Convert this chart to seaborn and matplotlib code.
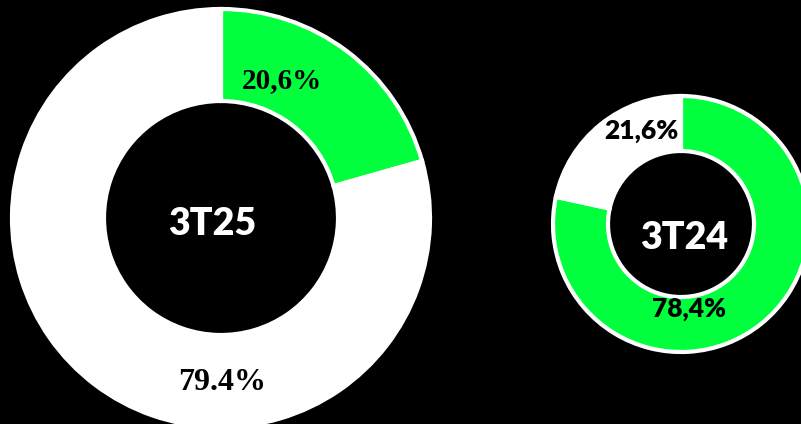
import matplotlib
matplotlib.use("Agg")
import matplotlib.pyplot as plt
import seaborn as sns

# shares of each period (green part first, then white part)
periods = ["3T25", "3T24"]
green_share = [20.6, 78.4]
white_share = [79.4, 21.6]
green_labels = ["20,6%", "78,4%"]
white_labels = ["79.4%", "21,6%"]

GREEN = "#00FF3C"
W, H = 801, 424

sns.set_theme(style="white")
plt.rcParams["font.family"] = ["Lato", "DejaVu Sans"]

fig = plt.figure(figsize=(W / 100, H / 100), dpi=100, facecolor="black")
ax = fig.add_axes([0, 0, 1, 1])
ax.set_facecolor("black")

# donut geometry in pixel units (y measured from the top)
centers = [(221, 218), (681, 224)]
radii = [209, 128]
holes = [117, 73]

for i in range(len(periods)):
    cx, cy = centers[i]
    ax.pie([green_share[i], white_share[i]], colors=[GREEN, "white"],
           startangle=90, counterclock=False, center=(cx, H - cy),
           radius=radii[i],
           wedgeprops=dict(width=radii[i] - holes[i], edgecolor="white", linewidth=3))

ax.set_xlim(0, W)
ax.set_ylim(0, H)
ax.set_aspect("equal")
ax.axis("off")

# big donut labels (serif percentages)
ax.text(282, H - 81, green_labels[0], ha="center", va="center", fontsize=21,
        fontweight="bold", family="Liberation Serif", color="black")
ax.text(222, H - 382, white_labels[0], ha="center", va="center", fontsize=23,
        fontweight="bold", family="Liberation Serif", color="black")
ax.text(212, H - 224, periods[0], ha="center", va="center", fontsize=27,
        fontweight="heavy", color="white")

# small donut labels
ax.text(641, H - 131, white_labels[1], ha="center", va="center", fontsize=19,
        fontweight="heavy", color="black")
ax.text(689, H - 309, green_labels[1], ha="center", va="center", fontsize=19,
        fontweight="heavy", color="black")
ax.text(684, H - 238, periods[1], ha="center", va="center", fontsize=27,
        fontweight="heavy", color="white")

fig.savefig("out.png", dpi=100, facecolor="black")
